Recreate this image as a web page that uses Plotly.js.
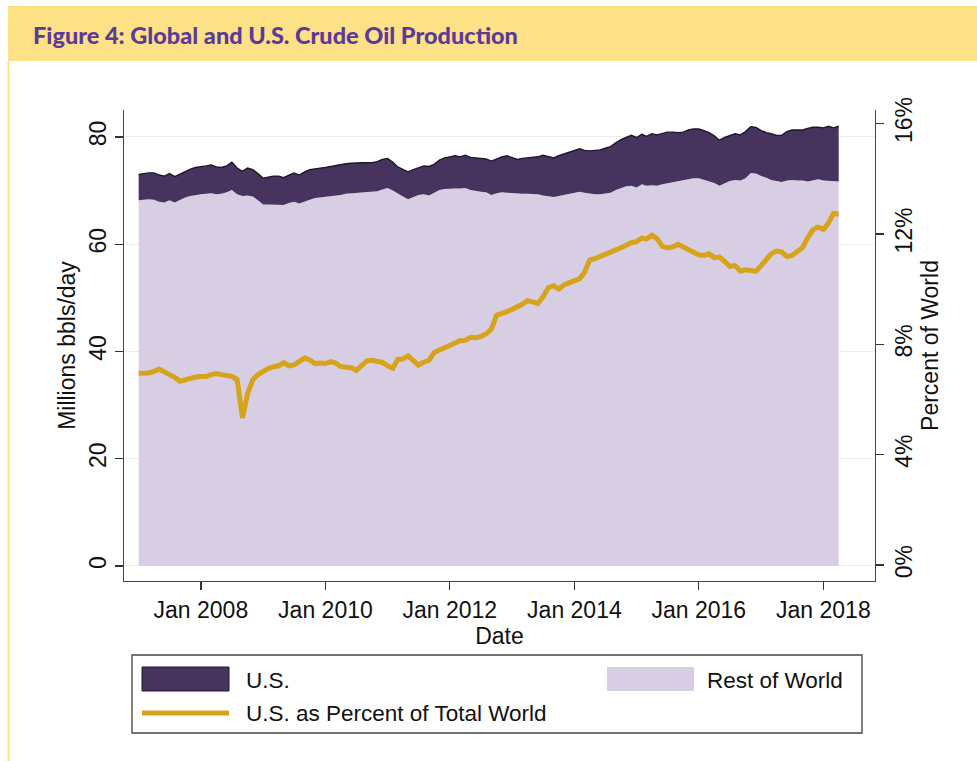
<!DOCTYPE html>
<html>
<head>
<meta charset="utf-8">
<script src="https://cdn.plot.ly/plotly-3.0.1.min.js"></script>
<style>
  html, body { margin: 0; padding: 0; background: #ffffff; }
  #chart { width: 977px; height: 761px; }
</style>
</head>
<body>
<div id="chart"></div>
<script>
// ---- Data (monthly, Jan 2007 - Apr 2018) ----
var startYear = 2007;
var startMonth = 1;
var monthCount = 136;

// World total crude production (millions bbl/day) = top of U.S. band
var worldTotal = [
  73.0,73.2,73.3,73.3,72.9,72.7,73.2,72.6,73.1,73.6,74.0,74.3,
  74.4,74.6,74.8,74.4,74.3,74.6,75.3,74.2,73.6,74.2,73.9,73.2,
  72.3,72.5,72.7,72.7,72.4,72.9,73.3,72.9,73.5,73.9,74.1,74.2,
  74.3,74.5,74.6,74.8,75.0,75.1,75.2,75.2,75.2,75.2,75.4,75.8,
  76.0,75.3,74.4,73.9,73.5,73.9,74.3,74.6,74.5,74.9,75.7,76.1,
  76.3,76.5,76.3,76.6,76.2,76.1,76.1,75.9,75.5,75.9,76.3,76.5,
  76.1,75.8,76.0,76.1,76.2,76.3,76.6,76.3,76.1,76.5,76.8,77.1,
  77.4,77.8,77.5,77.4,77.5,77.6,77.9,78.2,78.9,79.5,79.9,80.3,
  79.9,80.5,80.1,80.6,80.4,80.6,80.9,80.9,80.8,80.9,81.3,81.5,
  81.5,81.2,80.8,80.2,79.4,79.9,80.3,80.6,80.4,81.0,81.9,81.8,
  81.2,80.8,80.6,80.3,80.3,81.0,81.3,81.3,81.3,81.6,81.8,81.8,
  81.7,82.0,81.7,82.0
];

// Rest of world production (millions bbl/day)
var restOfWorld = [
  68.2,68.3,68.4,68.3,67.9,67.8,68.2,67.8,68.3,68.7,69.0,69.2,
  69.3,69.4,69.5,69.3,69.4,69.7,70.1,69.3,69.0,69.1,68.9,68.2,
  67.4,67.4,67.4,67.4,67.3,67.7,67.9,67.6,68.0,68.3,68.6,68.7,
  68.8,69.0,69.1,69.2,69.4,69.5,69.6,69.6,69.7,69.8,69.9,70.2,
  70.5,70.0,69.4,68.9,68.4,68.8,69.2,69.3,69.1,69.6,70.1,70.3,
  70.4,70.4,70.4,70.5,70.1,69.9,69.8,69.7,69.2,69.5,69.7,69.6,
  69.5,69.4,69.4,69.4,69.4,69.3,69.1,68.9,68.8,69.0,69.2,69.4,
  69.6,69.8,69.6,69.4,69.3,69.3,69.4,69.6,70.1,70.5,70.8,70.9,
  70.6,71.2,70.9,71.0,70.9,71.2,71.4,71.6,71.7,71.9,72.2,72.3,
  72.3,72.0,71.8,71.4,70.9,71.3,71.8,72.0,71.9,72.3,73.3,73.2,
  72.7,72.4,72.0,71.8,71.6,71.9,72.0,71.9,71.9,71.7,71.9,72.1,
  71.9,71.8,71.7,71.7
];

// U.S. as percent of total world (%)
var usPercent = [
  6.95,6.95,6.96,7.02,7.10,7.00,6.92,6.80,6.66,6.72,6.78,6.81,
  6.83,6.83,6.90,6.94,6.90,6.87,6.84,6.72,5.33,6.20,6.72,6.90,
  7.04,7.13,7.18,7.22,7.33,7.22,7.25,7.35,7.50,7.43,7.30,7.32,
  7.30,7.37,7.32,7.19,7.17,7.15,7.05,7.25,7.40,7.42,7.38,7.34,
  7.22,7.13,7.45,7.47,7.58,7.40,7.24,7.35,7.42,7.70,7.78,7.87,
  7.95,8.03,8.13,8.14,8.25,8.24,8.28,8.38,8.55,9.05,9.10,9.18,
  9.27,9.35,9.45,9.58,9.55,9.48,9.72,10.05,10.12,10.00,10.15,10.24,
  10.32,10.38,10.60,11.05,11.10,11.17,11.24,11.31,11.42,11.50,11.60,11.68,
  11.72,11.85,11.82,11.95,11.82,11.55,11.50,11.53,11.62,11.52,11.42,11.33,
  11.24,11.22,11.28,11.14,11.16,11.00,10.82,10.85,10.65,10.70,10.68,10.65,
  10.85,11.10,11.28,11.38,11.35,11.18,11.22,11.36,11.50,11.86,12.15,12.25,
  12.16,12.40,12.74,12.72
];

var leftTicks = [0, 20, 40, 60, 80];
var rightTicks = [0, 4, 8, 12, 16];
var rightTickText = ['0%', '4%', '8%', '12%', '16%'];
var xTickFirst = '2008-01-01';

var seriesNames = ['U.S.', 'Rest of World', 'U.S. as Percent of Total World'];
var chartTitle = 'Figure 4: Global and U.S. Crude Oil Production';

// ---- Dates ----
var dates = [];
for (var i = 0; i < monthCount; i++) {
  var m = startMonth - 1 + i;
  var y = startYear + Math.floor(m / 12);
  var mm = (m % 12) + 1;
  dates.push(y + '-' + (mm < 10 ? '0' + mm : mm) + '-01');
}

// ---- Colours ----
var usColor = '#46345F';
var rowColor = '#D7CEE3';
var goldColor = '#D6A31A';
var fontFam = 'Liberation Sans, Arial, Helvetica, sans-serif';

// ---- Page geometry (pixels) ----
var W = 977, H = 761;
var mL = 124, mR = W - 875, mT = 110, mB = H - 581;
var plotW = W - mL - mR, plotH = H - mT - mB;
function px(x) { return (x - mL) / plotW; }
function py(y) { return (H - mB - y) / plotH; }

var traces = [
  {
    x: dates, y: restOfWorld, type: 'scatter', mode: 'lines',
    name: seriesNames[1], fill: 'tozeroy', fillcolor: rowColor,
    line: { width: 0, color: rowColor }, hoverinfo: 'skip', showlegend: false
  },
  {
    x: dates, y: worldTotal, type: 'scatter', mode: 'lines',
    name: seriesNames[0], fill: 'tonexty', fillcolor: usColor,
    line: { width: 1.4, color: '#1F1630' }, hoverinfo: 'skip', showlegend: false
  },
  {
    x: dates, y: usPercent, type: 'scatter', mode: 'lines', yaxis: 'y2',
    name: seriesNames[2], line: { width: 5, color: goldColor },
    hoverinfo: 'skip', showlegend: false
  }
];

var shapes = [
  // header bar
  { type: 'rect', xref: 'paper', yref: 'paper', layer: 'below',
    x0: px(8), x1: px(977), y0: py(61), y1: py(6),
    fillcolor: '#FDE187', line: { width: 0 } },
  // left border line
  { type: 'line', xref: 'paper', yref: 'paper', layer: 'below',
    x0: px(8.5), x1: px(8.5), y0: py(61), y1: py(761),
    line: { color: '#FDE187', width: 2 } },
  // legend box
  { type: 'rect', xref: 'paper', yref: 'paper',
    x0: px(132), x1: px(862), y0: py(733), y1: py(655),
    fillcolor: '#ffffff', line: { color: '#444444', width: 1.3 } },
  // U.S. swatch
  { type: 'rect', xref: 'paper', yref: 'paper',
    x0: px(142), x1: px(229), y0: py(691), y1: py(667),
    fillcolor: usColor, line: { color: '#1F1630', width: 1 } },
  // Rest of World swatch
  { type: 'rect', xref: 'paper', yref: 'paper',
    x0: px(607), x1: px(694), y0: py(691), y1: py(667),
    fillcolor: rowColor, line: { width: 0 } },
  // Percent line swatch
  { type: 'line', xref: 'paper', yref: 'paper',
    x0: px(142), x1: px(229), y0: py(713), y1: py(713),
    line: { color: goldColor, width: 5 } }
];

var legendFont = { family: fontFam, size: 22.5, color: '#111111' };
var annotations = [
  { text: seriesNames[0], xref: 'paper', yref: 'paper', x: px(244), y: py(680),
    xanchor: 'left', yanchor: 'middle', showarrow: false, font: legendFont },
  { text: seriesNames[1], xref: 'paper', yref: 'paper', x: px(705), y: py(680),
    xanchor: 'left', yanchor: 'middle', showarrow: false, font: legendFont },
  { text: seriesNames[2], xref: 'paper', yref: 'paper', x: px(244), y: py(713),
    xanchor: 'left', yanchor: 'middle', showarrow: false, font: legendFont }
];

var axisFont = { family: fontFam, size: 23, color: '#111111' };

var layout = {
  width: W, height: H,
  margin: { l: mL, r: mR, t: mT, b: mB, pad: 0 },
  paper_bgcolor: '#ffffff',
  plot_bgcolor: '#ffffff',
  showlegend: false,
  title: {
    text: chartTitle,
    xref: 'container', yref: 'container',
    x: 33 / W, xanchor: 'left', y: 1 - 36 / H, yanchor: 'middle',
    font: { family: 'Lato, Liberation Sans, sans-serif', size: 23.5, color: '#5B3A98', weight: 900 }
  },
  xaxis: {
    type: 'date',
    range: ['2006-10-07', '2018-10-31'],
    tick0: xTickFirst, dtick: 'M24', tickformat: '%b %Y',
    ticks: 'outside', ticklen: 8, tickwidth: 1.3, tickcolor: '#333333',
    showline: true, linecolor: '#444444', linewidth: 1.3,
    showgrid: false, zeroline: false,
    tickfont: axisFont,
    title: { text: 'Date', font: axisFont, standoff: 0 }
  },
  yaxis: {
    range: [-2.80, 85.03],
    tickvals: leftTicks,
    tickangle: -90,
    ticks: 'outside', ticklen: 8, tickwidth: 1.3, tickcolor: '#333333',
    showline: true, linecolor: '#444444', linewidth: 1.3,
    showgrid: true, gridcolor: '#EDEDED', gridwidth: 1,
    zeroline: false,
    tickfont: axisFont,
    title: { text: 'Millions bbls/day', font: axisFont, standoff: 2 }
  },
  yaxis2: {
    overlaying: 'y', side: 'right',
    range: [-0.58, 16.49],
    tickvals: rightTicks, ticktext: rightTickText,
    tickangle: -90,
    ticks: 'outside', ticklen: 8, tickwidth: 1.3, tickcolor: '#333333',
    showline: true, linecolor: '#444444', linewidth: 1.3,
    showgrid: false, zeroline: false,
    tickfont: axisFont,
    title: { text: 'Percent of World', font: axisFont, standoff: 4 }
  },
  shapes: shapes,
  annotations: annotations
};

Plotly.newPlot('chart', traces, layout, { staticPlot: true, displayModeBar: false });
</script>
</body>
</html>
